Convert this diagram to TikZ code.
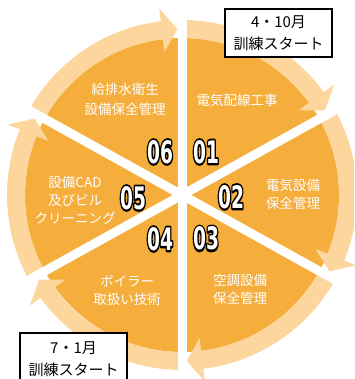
\documentclass[tikz,border=0pt]{standalone}
\usepackage{fontspec}
\setmainfont{Noto Sans CJK JP}
\newfontfamily\numfont{DejaVu Sans}
\definecolor{disc}{HTML}{F5AD3B}
\definecolor{ring}{HTML}{FCD69C}
\newcommand\numstroke[1]{\scalebox{0.6}[1]{\special{pdf:literal direct 0 0 0 RG 0 0 0 rg 2 Tr 4.2 w 1 j}#1\special{pdf:literal direct 0 Tr}}}
\newcommand\numfill[1]{\scalebox{0.6}[1]{#1}}
\tikzset{
  lbl/.style={text=white, font=\fontsize{13.5}{18}\selectfont, align=center, inner sep=0pt},
  num/.style={font=\numfont\bfseries\fontsize{31}{31}\selectfont, inner sep=0pt, text=white},
  startbox/.style={draw=black, line width=2pt, fill=white, minimum width=107pt, align=center,
    font=\fontsize{15}{21.5}\selectfont, inner sep=0pt}
}
\begin{document}
\begin{tikzpicture}[x=1pt,y=1pt]
\clip (0,0) rectangle (354,379);
\coordinate (C) at (182,184);
% orange disc
\fill[disc] (C) circle (157);
% ring arrows (clockwise)
\foreach \s/\e in {151/90, 90/29, 29/-29, -29/-90, -90/-151, -151/-209}{
  \pgfmathsetmacro\tp{\e+1.6}
  \pgfmathsetmacro\hb{\e+1.6+5.4}
  \fill[ring] ([shift={(C)}]\s:175) arc[start angle=\s, end angle=\hb, radius=175]
    -- ([shift={(C)}]\hb:188) -- ([shift={(C)}]\tp:166) -- ([shift={(C)}]\hb:144)
    -- ([shift={(C)}]\hb:157) arc[start angle=\hb, end angle=\s, radius=157] -- cycle;
}
% white separating lines
\foreach \a in {90,29,151}{
  \pgfmathsetmacro\b{\a+180}
  \draw[white, line width=9pt] ([shift={(C)}]\a:205) -- ([shift={(C)}]\b:205);
}
% labels
\node[lbl, font=\fontsize{13.5}{19.5}\selectfont] (t6) at (125,279.5) {給排水衛生\\設備保全管理};
\node[lbl] (t1) at (237,279) {電気配線工事};
\node[lbl] (t2) at (293,184.5) {電気設備\\保全管理};
\node[lbl] (t3) at (240,89.5) {空調設備\\保全管理};
\node[lbl] (t4) at (127,88) {ボイラー\\取扱い技術};
\node[lbl] (t5) at (75,179) {設備CAD\\及びビル\\クリーニング};
% numbers with outline (stroke underlay, white fill on top)
\foreach \n/\x/\y in {06/160/227, 01/206/227, 02/231/182, 05/133/181, 04/160/140, 03/206/140.5}{
  \node[num] (o\n) at (\x,\y) {\numstroke{\n}};
  \node[num] (n\n) at (\x,\y) {\numfill{\n}};
}
% start boxes
\node[startbox, minimum height=48pt] (b1) at (278.5,346) {4・10月\\訓練スタート};
\node[startbox, minimum height=52pt] (b2) at (73.5,20) {7・1月\\訓練スタート};
\end{tikzpicture}
\end{document}
